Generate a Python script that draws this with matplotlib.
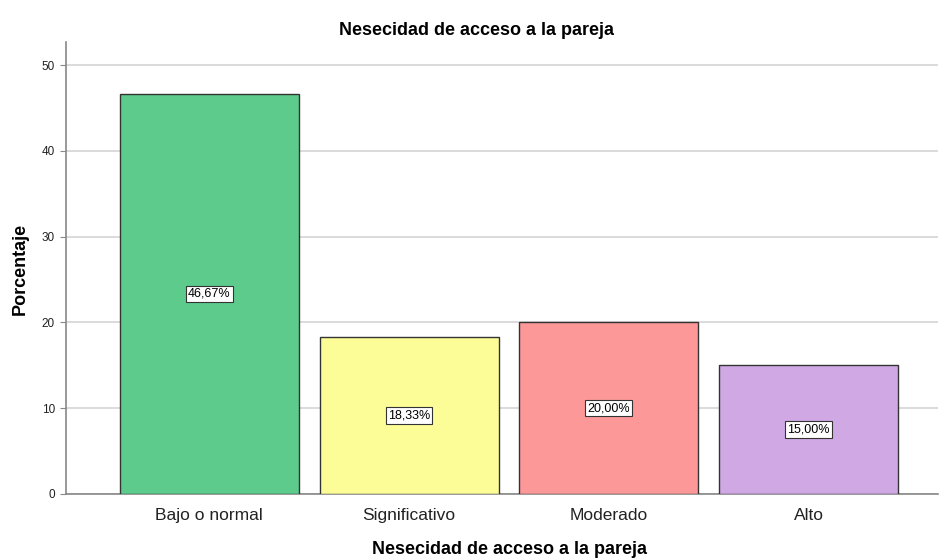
import matplotlib
matplotlib.use("Agg")
import matplotlib.pyplot as plt

categories = ["Bajo o normal", "Significativo", "Moderado", "Alto"]
values = [46.67, 18.33, 20.00, 15.00]
labels = ["46,67%", "18,33%", "20,00%", "15,00%"]
colors = ["#5ccb8b", "#fdfd98", "#fd9898", "#d0a8e4"]
yticks = [0, 10, 20, 30, 40, 50]

plt.rcParams['font.family'] = ['Liberation Sans', 'DejaVu Sans']
W, H = 941, 559
fig = plt.figure(figsize=(W/100, H/100), dpi=100)
ax = fig.add_axes([66/W, 1-494/H, (938-66)/W, (494-42)/H])

x = list(range(len(categories)))
ax.bar(x, values, width=0.895, color=colors, edgecolor="#333333", linewidth=1.0, zorder=3)
for xi, v, lab in zip(x, values, labels):
    ax.text(xi, v/2, lab, ha="center", va="center", fontsize=9, zorder=4,
            bbox=dict(boxstyle="square,pad=0.18", fc="white", ec="#333333", lw=0.8))

ax.set_xlim(-0.7175, 3.6475)
ax.set_ylim(0, 52.7)
ax.set_yticks(yticks)
ax.set_yticklabels([str(t) for t in yticks], fontsize=8.5, color="#222222")
ax.set_xticks(x)
ax.set_xticklabels(categories, fontsize=12.5, color="#222222")
ax.tick_params(axis="x", length=0, pad=10)
ax.tick_params(axis="y", length=4, color="#888888", pad=4)
ax.yaxis.grid(True, color="#d4d4d4", linewidth=1.2, zorder=0)
ax.set_axisbelow(True)
for s in ["top", "right"]:
    ax.spines[s].set_visible(False)
for s in ["left", "bottom"]:
    ax.spines[s].set_color("#888888")
    ax.spines[s].set_linewidth(1.2)

fig.text(476.5/W, 1-35/H, "Nesecidad de acceso a la pareja", fontsize=13,
         fontweight="bold", ha="center", va="baseline")
fig.text(509.5/W, 1-554/H, "Nesecidad de acceso a la pareja", fontsize=13,
         fontweight="bold", ha="center", va="baseline")
fig.text(20/W, 1-268.5/H, "Porcentaje", fontsize=13, fontweight="bold",
         ha="center", va="center", rotation=90)

fig.savefig("out.png", dpi=100)
